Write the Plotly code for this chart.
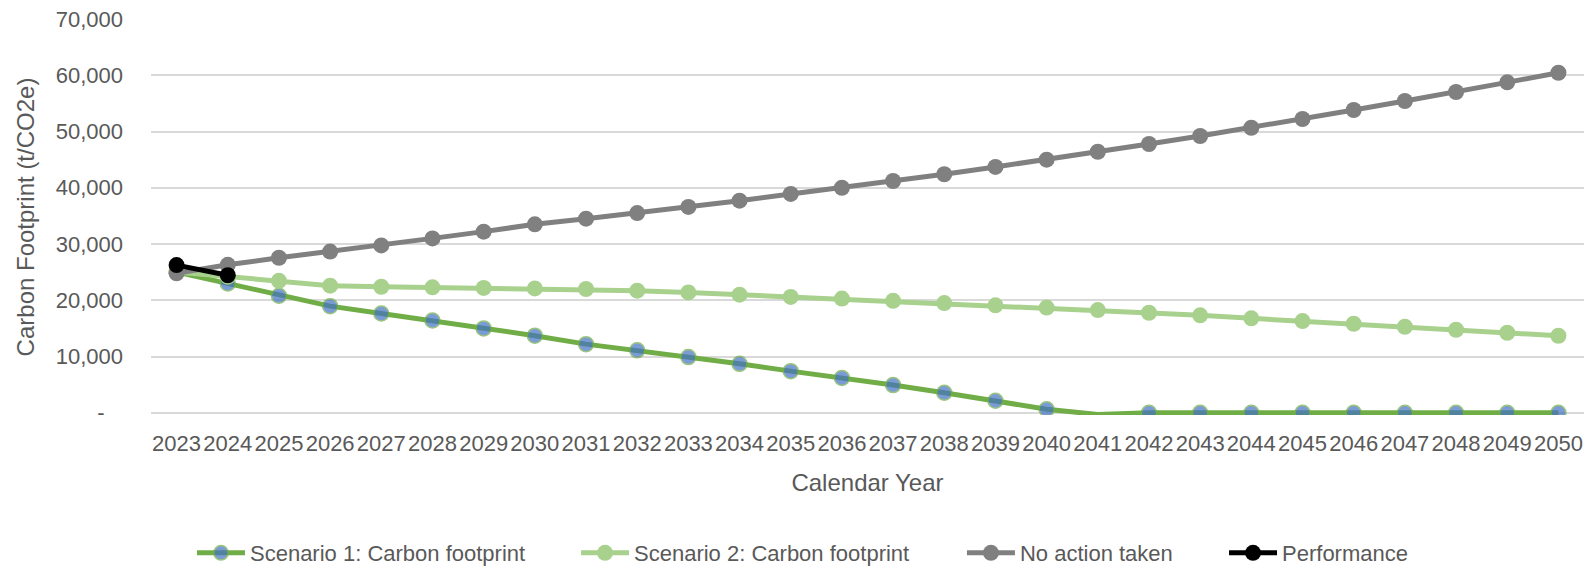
import plotly.graph_objects as go

years = [str(y) for y in range(2023, 2051)]

scenario1 = [25000, 23000, 20800, 18950, 17650, 16400, 15000, 13700, 12200, 11100,
             9900, 8700, 7400, 6200, 4920, 3560, 2130, 620, -300, 0,
             0, 0, 0, 0, 0, 0, 0, 0]
scenario2 = [25000, 24200, 23450, 22600, 22400, 22300, 22200, 22100, 22000, 21700,
             21400, 21000, 20600, 20300, 19900, 19500, 19100, 18700, 18260, 17780,
             17320, 16780, 16300, 15820, 15290, 14760, 14220, 13690]
no_action = [24800, 26300, 27550, 28650, 29750, 31000, 32200, 33500, 34500, 35500,
             36600, 37700, 38900, 40000, 41200, 42400, 43700, 45000, 46400, 47780,
             49200, 50670, 52220, 53820, 55420, 57020, 58740, 60450]
performance = [26250, 24450]

ytick_vals = [0, 10000, 20000, 30000, 40000, 50000, 60000, 70000]
ytick_text = ["-\u00a0\u00a0\u00a0", "10,000", "20,000", "30,000", "40,000", "50,000", "60,000", "70,000"]

FONT = "Liberation Sans"
TXT = "#595959"

# hide the marker of the one point below zero (as in the reference)
s1_sizes = [0 if v < 0 else 15 for v in scenario1]

fig = go.Figure()
fig.add_trace(go.Scatter(
    x=years, y=scenario1, name="Scenario 1: Carbon footprint", mode="lines+markers",
    line=dict(color="#70AD47", width=5),
    marker=dict(size=s1_sizes, color="#4472C4", line=dict(color="#70AD47", width=1.5)),
    legend="legend",
))
fig.add_trace(go.Scatter(
    x=years, y=scenario2, name="Scenario 2: Carbon footprint", mode="lines+markers",
    line=dict(color="#A9D18E", width=5),
    marker=dict(size=16, color="#A9D18E"),
    legend="legend2",
))
fig.add_trace(go.Scatter(
    x=years, y=no_action, name="No action taken", mode="lines+markers",
    line=dict(color="#808080", width=5),
    marker=dict(size=16, color="#808080"),
    legend="legend3",
))
fig.add_trace(go.Scatter(
    x=years[:len(performance)], y=performance, name="Performance", mode="lines+markers",
    line=dict(color="#000000", width=5),
    marker=dict(size=16, color="#000000"),
    legend="legend4",
))

def leg(x):
    return dict(
        orientation="h", x=x, xanchor="left", y=0.023, yanchor="middle",
        yref="container", font=dict(family=FONT, size=22, color=TXT),
        itemwidth=48, bgcolor="rgba(0,0,0,0)",
    )

fig.update_layout(
    width=1587, height=566,
    margin=dict(l=151, r=3, t=19, b=151),
    paper_bgcolor="white", plot_bgcolor="white",
    font=dict(family=FONT, size=22, color=TXT),
    showlegend=True,
    legend=leg(0.0286),
    legend2=leg(0.2966),
    legend3=leg(0.5659),
    legend4=leg(0.7488),
)
fig.update_xaxes(
    type="category", range=[-0.5, 27.5], showgrid=False, showline=False, zeroline=False,
    ticks="", tickfont=dict(family=FONT, size=22, color=TXT), ticklabelstandoff=13,
    title=dict(text="Calendar Year", font=dict(family=FONT, size=24, color=TXT), standoff=19),
)
fig.update_yaxes(
    range=[-400, 70000], tickvals=ytick_vals, ticktext=ytick_text,
    showgrid=True, gridcolor="#D9D9D9", gridwidth=1.8, zeroline=False, showline=False,
    ticks="", tickfont=dict(family=FONT, size=22, color=TXT), ticklabelstandoff=27,
    title=dict(text="Carbon Footprint (t/CO2e)", font=dict(family=FONT, size=24, color=TXT), standoff=14),
)

fig.write_html("out.html")
